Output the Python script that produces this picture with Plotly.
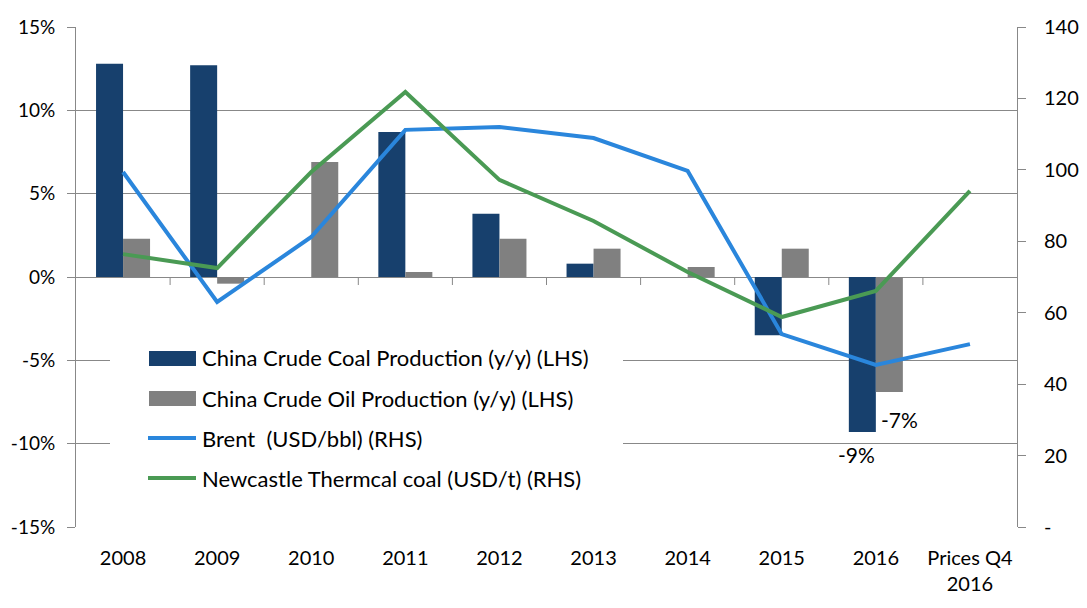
import plotly.graph_objects as go

categories = ["2008", "2009", "2010", "2011", "2012", "2013", "2014", "2015", "2016", "Prices Q4<br>2016"]
coal_prod = [12.8, 12.7, 0.0, 8.7, 3.8, 0.8, 0.0, -3.5, -9.3, None]
oil_prod = [2.3, -0.4, 6.9, 0.3, 2.3, 1.7, 0.6, 1.7, -6.9, None]
brent = [99.4, 63.0, 81.2, 111.2, 112.0, 108.9, 99.7, 54.0, 45.4, 51.2]
newcastle = [76.4, 72.5, 99.4, 121.8, 97.2, 85.7, 71.4, 58.8, 66.1, 94.1]

names = [
    "China Crude Coal Production (y/y) (LHS)",
    "China Crude Oil Production (y/y) (LHS)",
    "Brent  (USD/bbl) (RHS)",
    "Newcastle Thermcal coal (USD/t) (RHS)",
]
left_ticks = [-15, -10, -5, 0, 5, 10, 15]
left_ticktext = [f"{v}%" for v in left_ticks]
right_ticks = [0, 20, 40, 60, 80, 100, 120, 140]
right_ticktext = ["-", "20", "40", "60", "80", "100", "120", "140"]

C_COAL = "#17406D"
C_OIL = "#808080"
C_BRENT = "#2A86DC"
C_NEW = "#4A9A54"
GRID = "#888888"
FONT = "Lato, Calibri, Carlito, sans-serif"
FS = 20
FS_LEG = 22

# page body has an 8px margin, so the figure is drawn 8px smaller and shifted
OFF = 8
W, H = 1087 - OFF, 608 - OFF
L, R, T, B = 76, 1017, 27, 527   # target pixel positions in the window


def px(x):
    return (x - L) / (R - L)


def py(y):
    return (B - y) / (B - T)


fig = go.Figure()
fig.add_trace(go.Bar(x=categories, y=coal_prod, name=names[0], marker_color=C_COAL,
                     marker_line_width=0, showlegend=False))
fig.add_trace(go.Bar(x=categories, y=oil_prod, name=names[1], marker_color=C_OIL,
                     marker_line_width=0, showlegend=False))
fig.add_trace(go.Scatter(x=categories, y=brent, name=names[2], mode="lines",
                         line=dict(color=C_BRENT, width=4), yaxis="y2", showlegend=False))
fig.add_trace(go.Scatter(x=categories, y=newcastle, name=names[3], mode="lines",
                         line=dict(color=C_NEW, width=4), yaxis="y2", showlegend=False))

shapes = []
for i in range(len(categories) - 1):
    shapes.append(dict(type="line", xref="x", yref="y", x0=i + 0.5, x1=i + 0.5,
                       ysizemode="pixel", yanchor=0, y0=0, y1=-8,
                       line=dict(color=GRID, width=1)))

shapes.append(dict(type="rect", xref="paper", yref="paper", x0=px(110), x1=px(623),
                   y0=py(495), y1=py(337), fillcolor="white", line=dict(width=0), layer="above"))
shapes.append(dict(type="rect", xref="paper", yref="paper", x0=px(149), x1=px(196),
                   y0=py(366), y1=py(351), fillcolor=C_COAL, line=dict(width=0), layer="above"))
shapes.append(dict(type="rect", xref="paper", yref="paper", x0=px(149), x1=px(196),
                   y0=py(406), y1=py(391), fillcolor=C_OIL, line=dict(width=0), layer="above"))
shapes.append(dict(type="line", xref="paper", yref="paper", x0=px(148), x1=px(196),
                   y0=py(438), y1=py(438), line=dict(color=C_BRENT, width=4), layer="above"))
shapes.append(dict(type="line", xref="paper", yref="paper", x0=px(148), x1=px(196),
                   y0=py(478), y1=py(478), line=dict(color=C_NEW, width=4), layer="above"))

annotations = []
for name, yy in zip(names, [358, 398, 438, 478]):
    annotations.append(dict(text=name, xref="paper", yref="paper", x=px(200), y=py(yy),
                            xanchor="left", yanchor="middle", showarrow=False,
                            font=dict(family=FONT, size=FS_LEG, color="black")))

i16 = categories.index("2016")
annotations.append(dict(text=f"{coal_prod[i16]:.0f}%", xref="x", yref="y", x=i16, y=coal_prod[i16],
                        xanchor="center", yanchor="top", xshift=-19, yshift=-8, showarrow=False,
                        font=dict(family=FONT, size=21, color="black")))
annotations.append(dict(text=f"{oil_prod[i16]:.0f}%", xref="x", yref="y", x=i16, y=oil_prod[i16],
                        xanchor="center", yanchor="top", xshift=24, yshift=-13, showarrow=False,
                        font=dict(family=FONT, size=21, color="black")))

fig.update_layout(
    width=W, height=H,
    margin=dict(l=L - OFF, r=W - (R - OFF), t=T - OFF, b=H - (B - OFF), autoexpand=False),
    paper_bgcolor="white", plot_bgcolor="white",
    barmode="group", bargap=0.426, bargroupgap=0,
    font=dict(family=FONT, size=FS, color="black"),
    xaxis=dict(type="category", categoryorder="array", categoryarray=categories,
               range=[-0.5, len(categories) - 0.5], showgrid=False, showline=False,
               zeroline=False, ticks="outside", ticklen=13, tickcolor="rgba(0,0,0,0)",
               tickfont=dict(family=FONT, size=FS, color="black")),
    yaxis=dict(range=[-15, 15], tickvals=left_ticks, ticktext=left_ticktext, showgrid=True,
               gridcolor=GRID, gridwidth=1, zeroline=False, showline=True,
               linecolor=GRID, linewidth=1, ticks="outside", ticklen=8, tickcolor=GRID,
               ticklabelstandoff=8,
               tickfont=dict(family=FONT, size=19, color="black")),
    yaxis2=dict(range=[0, 140], tickvals=right_ticks, ticktext=right_ticktext,
                overlaying="y", side="right", showgrid=False, zeroline=False,
                showline=True, linecolor=GRID, linewidth=1, ticks="outside", ticklen=8,
                tickcolor=GRID, ticklabelstandoff=14,
                tickfont=dict(family=FONT, size=FS, color="black")),
    shapes=shapes,
    annotations=annotations,
)

fig.write_html("out.html")
